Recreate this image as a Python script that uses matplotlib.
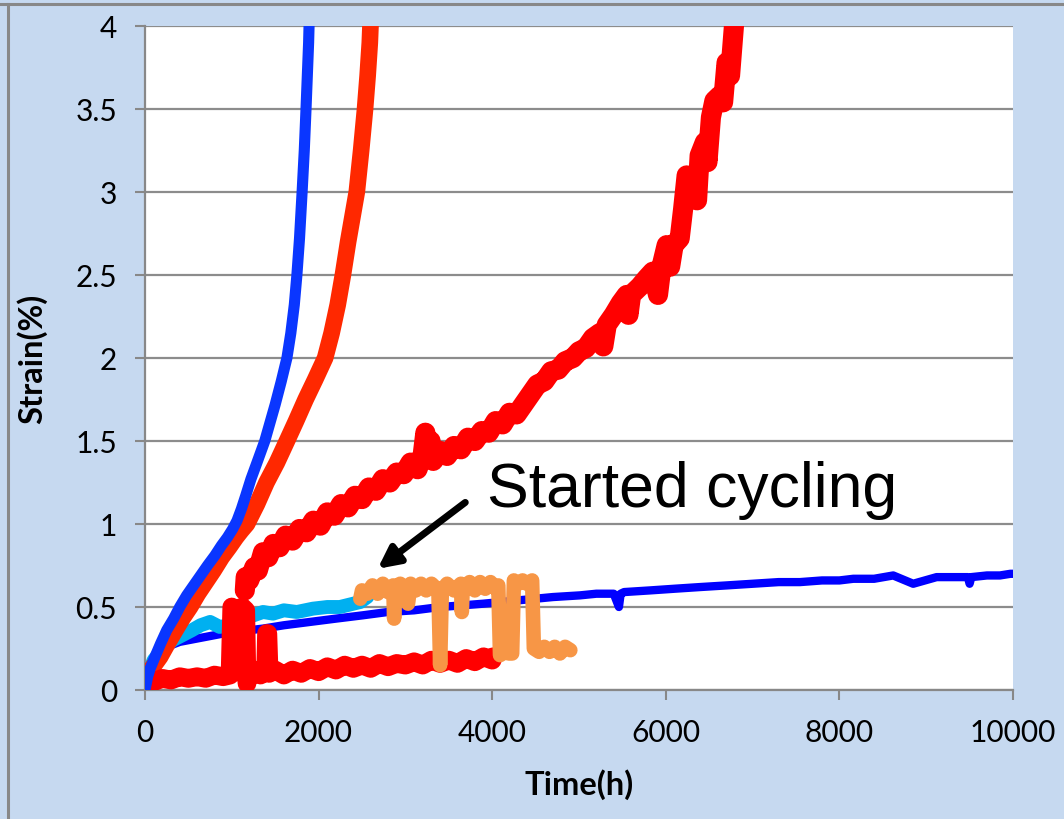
import matplotlib as mpl
mpl.use('Agg')
import matplotlib.pyplot as plt
from matplotlib.lines import Line2D

# steep blue creep curve (ruptured ~1900 h)
blue_fast_t = [0, 30, 60, 115, 180, 250, 330, 400, 480, 560, 640, 720, 805, 880, 950, 1010, 1060,
               1110, 1160, 1220, 1290, 1380, 1440, 1500, 1570, 1635, 1680, 1720, 1750, 1780, 1810,
               1835, 1855, 1870, 1885, 1895]
blue_fast_s = [0.0, 0.08, 0.13, 0.2, 0.28, 0.36, 0.43, 0.5, 0.57, 0.63, 0.69, 0.75, 0.81, 0.87, 0.92,
               0.97, 1.02, 1.09, 1.17, 1.27, 1.37, 1.5, 1.61, 1.72, 1.86, 2.0, 2.15, 2.32, 2.5, 2.72,
               3.0, 3.25, 3.5, 3.7, 3.9, 4.1]

# orange-red curve (ruptured ~2600 h)
orred_t = [0, 60, 120, 175, 260, 350, 430, 520, 610, 700, 790, 885, 970, 1050, 1110, 1175, 1290,
           1400, 1520, 1635, 1740, 1850, 1960, 2075, 2150, 2220, 2280, 2340, 2390, 2440, 2490, 2535,
           2565, 2590, 2605]
orred_s = [0.06, 0.12, 0.16, 0.2, 0.28, 0.36, 0.43, 0.5, 0.58, 0.65, 0.72, 0.8, 0.86, 0.92, 0.96,
           1.0, 1.12, 1.25, 1.37, 1.5, 1.62, 1.75, 1.87, 2.0, 2.15, 2.32, 2.5, 2.7, 2.85, 3.0, 3.25,
           3.5, 3.7, 3.9, 4.1]

# long red curve (started ~1150 h, ruptured ~6800 h)
red_long_t = [1150, 1160, 1200, 1260, 1300, 1360, 1420, 1480, 1550, 1620, 1700, 1780, 1860, 1940,
              2020, 2100, 2180, 2260, 2340, 2420, 2500, 2580, 2660, 2740, 2820, 2900, 2980, 3060,
              3140, 3200, 3230, 3260, 3290, 3320, 3400, 3480, 3560, 3640, 3720, 3800, 3880, 3960,
              4040, 4120, 4200, 4280, 4360, 4440, 4520, 4600, 4680, 4760, 4840, 4930, 5000, 5080,
              5160, 5240, 5280, 5320, 5400, 5480, 5550, 5570, 5600, 5700, 5780, 5850, 5910, 5950,
              6010, 6050, 6090, 6160, 6200, 6240, 6300, 6360, 6390, 6450, 6480, 6520, 6560, 6620,
              6660, 6700, 6740, 6770, 6800]
red_long_s = [0.6, 0.68, 0.66, 0.74, 0.72, 0.83, 0.8, 0.88, 0.86, 0.93, 0.9, 0.97, 0.95, 1.02,
              0.99, 1.07, 1.05, 1.12, 1.1, 1.17, 1.15, 1.22, 1.2, 1.27, 1.25, 1.31, 1.3, 1.37,
              1.33, 1.42, 1.55, 1.4, 1.5, 1.38, 1.44, 1.41, 1.47, 1.45, 1.52, 1.5, 1.56, 1.55,
              1.62, 1.6, 1.67, 1.66, 1.72, 1.78, 1.84, 1.86, 1.92, 1.93, 1.98, 2.0, 2.04, 2.06,
              2.12, 2.15, 2.07, 2.2, 2.26, 2.33, 2.38, 2.26, 2.38, 2.43, 2.48, 2.52, 2.38, 2.55,
              2.68, 2.55, 2.68, 2.72, 2.9, 3.1, 3.08, 2.95, 3.22, 3.3, 3.18, 3.45, 3.55, 3.58,
              3.54, 3.78, 3.7, 3.9, 4.1]

# long dark blue curve (still running at 10000 h)
blue_long_t = [0, 20, 50, 90, 135, 200, 300, 400, 500, 600, 800, 1000, 1200, 1360, 1600, 1900, 2200,
               2510, 2800, 3100, 3400, 3660, 3900, 4100, 4300, 4500, 4700, 5010, 5200, 5400, 5460,
               5480, 5520, 5820, 6100, 6390, 6700, 7000, 7300, 7545, 7800, 8000, 8160, 8400, 8620,
               8850, 9120, 9400, 9480, 9500, 9520, 9700, 9850, 9970, 10000]
blue_long_s = [0.0, 0.05, 0.1, 0.15, 0.2, 0.24, 0.27, 0.29, 0.3, 0.31, 0.33, 0.35, 0.36, 0.37, 0.39,
               0.41, 0.43, 0.45, 0.47, 0.48, 0.5, 0.51, 0.52, 0.53, 0.54, 0.55, 0.56, 0.57, 0.58, 0.58,
               0.5, 0.58, 0.59, 0.6, 0.61, 0.62, 0.63, 0.64, 0.65, 0.65, 0.66, 0.66, 0.67, 0.67, 0.69,
               0.64, 0.68, 0.68, 0.68, 0.64, 0.68, 0.69, 0.69, 0.7, 0.7]

# light blue curve
cyan_t = [0, 40, 100, 210, 320, 430, 540, 640, 750, 860, 980, 1100, 1250, 1360, 1475, 1600, 1750,
          1935, 2100, 2245, 2400, 2480, 2560, 2600]
cyan_s = [0.0, 0.1, 0.18, 0.25, 0.3, 0.33, 0.36, 0.39, 0.41, 0.38, 0.39, 0.42, 0.45, 0.47, 0.46,
          0.48, 0.47, 0.49, 0.5, 0.5, 0.52, 0.53, 0.56, 0.6]

# low red curve with spikes
red_low_t = [0, 40, 100, 200, 300, 400, 500, 600, 700, 800, 900, 980, 1000, 1060, 1120, 1160, 1175,
             1190, 1260, 1330, 1390, 1400, 1415, 1430, 1500, 1600, 1700, 1800, 1900, 2000, 2100,
             2200, 2300, 2400, 2500, 2600, 2700, 2800, 2900, 3000, 3100, 3200, 3300, 3400, 3500,
             3600, 3700, 3800, 3900, 4000, 4010]
red_low_s = [0.0, 0.06, 0.05, 0.07, 0.06, 0.08, 0.07, 0.08, 0.07, 0.09, 0.08, 0.09, 0.5, 0.48, 0.5,
             0.48, 0.04, 0.1, 0.12, 0.09, 0.11, 0.34, 0.34, 0.1, 0.12, 0.09, 0.12, 0.1, 0.13, 0.11,
             0.14, 0.12, 0.15, 0.13, 0.15, 0.13, 0.16, 0.14, 0.16, 0.15, 0.17, 0.15, 0.18, 0.16, 0.18,
             0.16, 0.19, 0.17, 0.2, 0.18, 0.2]

# orange cycling curve
orange_t = [2480, 2500, 2560, 2620, 2680, 2740, 2800, 2860, 2870, 2880, 2940, 3000, 3030, 3060, 3120,
            3180, 3240, 3300, 3380, 3400, 3420, 3480, 3560, 3640, 3650, 3660, 3740, 3800, 3860,
            3920, 3980, 4040, 4070, 4090, 4120, 4150, 4170, 4190, 4230, 4250, 4300, 4350, 4400,
            4460, 4480, 4540, 4600, 4660, 4720, 4780, 4840, 4900]
orange_s = [0.55, 0.6, 0.58, 0.63, 0.58, 0.64, 0.59, 0.63, 0.43, 0.6, 0.64, 0.59, 0.52, 0.64, 0.6,
            0.64, 0.6, 0.64, 0.6, 0.15, 0.6, 0.64, 0.6, 0.64, 0.47, 0.61, 0.65, 0.6, 0.65, 0.61,
            0.65, 0.61, 0.63, 0.21, 0.22, 0.24, 0.32, 0.22, 0.22, 0.66, 0.64, 0.66, 0.64, 0.66,
            0.25, 0.23, 0.26, 0.23, 0.26, 0.22, 0.26, 0.24]

xticks = [0, 2000, 4000, 6000, 8000, 10000]
yticks = [0, 0.5, 1, 1.5, 2, 2.5, 3, 3.5, 4]
ytick_labels = ['0', '0.5', '1', '1.5', '2', '2.5', '3', '3.5', '4']

plt.rcParams['font.family'] = ['Lato', 'DejaVu Sans']

fig = plt.figure(figsize=(10.64, 8.2), dpi=100, facecolor='#C6D9F0')
ax = fig.add_axes([145 / 1064, 1 - 691 / 820, 868 / 1064, 664 / 820])
ax.set_facecolor('white')

ax.plot(blue_long_t, blue_long_s, color='#0000FF', lw=6, solid_capstyle='round', zorder=3)
ax.plot(cyan_t, cyan_s, color='#00B0F0', lw=10, solid_capstyle='round', zorder=4)
ax.plot(red_low_t, red_low_s, color='#FF0000', lw=13.5, solid_capstyle='round', zorder=5)
ax.plot(orange_t, orange_s, color='#F79646', lw=10.5, solid_capstyle='round', zorder=6)
ax.plot(red_long_t, red_long_s, color='#FF0000', lw=14.5, solid_capstyle='round', zorder=5)
ax.plot(orred_t, orred_s, color='#FF2800', lw=12, solid_capstyle='round', zorder=4)
ax.plot(blue_fast_t, blue_fast_s, color='#0A36FF', lw=8, solid_capstyle='round', zorder=6)

ax.set_xlim(0, 10000)
ax.set_ylim(0, 4)
ax.set_xticks(xticks)
ax.set_yticks(yticks)
ax.set_yticklabels(ytick_labels)
ax.tick_params(labelsize=21.5, length=7, width=1.5, color='#888888', pad=13)
ax.yaxis.grid(True, color='#8C8C8C', lw=1.6)
ax.set_axisbelow(True)
for side in ['top', 'right']:
    ax.spines[side].set_visible(False)
for side in ['left', 'bottom']:
    ax.spines[side].set_color('#888888')
    ax.spines[side].set_linewidth(1.6)

ax.set_xlabel('Time(h)', fontsize=23.5, fontweight='bold', labelpad=16)
ax.set_ylabel('Strain(%)', fontsize=23.5, fontweight='bold', labelpad=20)

ax.annotate('', xy=(2680, 0.73), xytext=(3690, 1.13),
            arrowprops=dict(arrowstyle='-|>', color='black', lw=5, mutation_scale=32,
                            shrinkA=0, shrinkB=0), zorder=8)
ax.text(3940, 1.108, 'Started cycling', fontsize=45, family='Liberation Sans',
        ha='left', va='baseline', zorder=9)

# frame lines around the picture
fig.add_artist(Line2D([0, 1], [1 - 5 / 820] * 2, color='#888888', lw=2.2))
fig.add_artist(Line2D([8 / 1064] * 2, [0, 1 - 5 / 820], color='#888888', lw=2.2))

fig.savefig('out.png', dpi=100, facecolor=fig.get_facecolor())
